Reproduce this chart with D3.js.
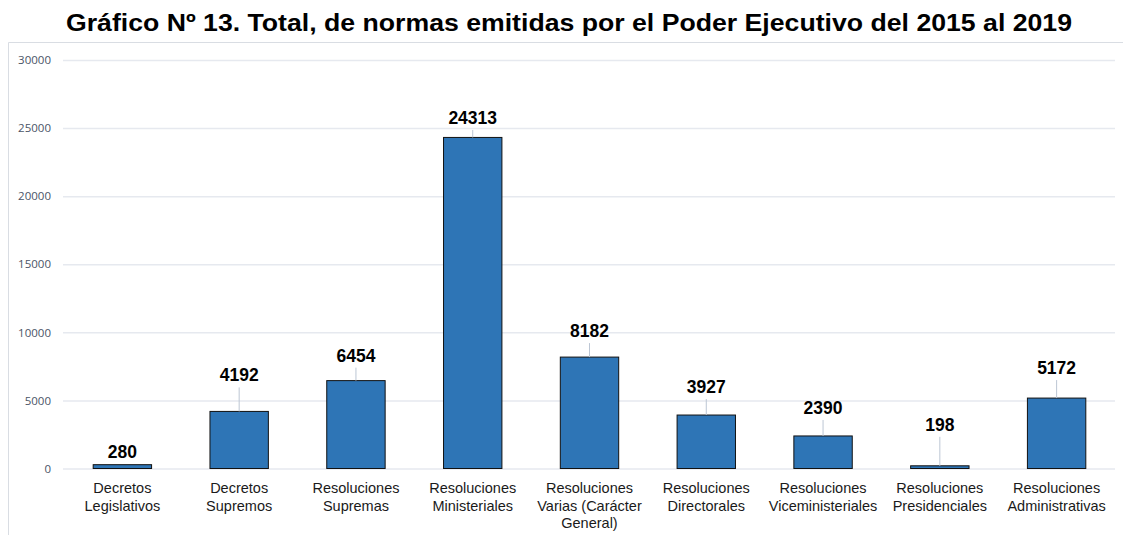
<!DOCTYPE html>
<html><head><meta charset="utf-8">
<script src="https://cdn.jsdelivr.net/npm/d3@7"></script>
<style>body{margin:0;background:#fff}</style></head>
<body><svg id="c" width="1123" height="535"></svg>
<script>
const titleText = "Gráfico Nº 13. Total, de normas emitidas por el Poder Ejecutivo del 2015 al 2019";
const categories = [
  ["Decretos","Legislativos"],
  ["Decretos","Supremos"],
  ["Resoluciones","Supremas"],
  ["Resoluciones","Ministeriales"],
  ["Resoluciones","Varias (Carácter","General)"],
  ["Resoluciones","Directorales"],
  ["Resoluciones","Viceministeriales"],
  ["Resoluciones","Presidenciales"],
  ["Resoluciones","Administrativas"]
];
const values = [280, 4192, 6454, 24313, 8182, 3927, 2390, 198, 5172];
const yTicks = [0, 5000, 10000, 15000, 20000, 25000, 30000];
// label offsets above bar top (px), layout only
const labelLift = [7, 30, 19, 13.5, 20, 22, 22, 35, 24];

const svg = d3.select("#c");
const W = 1123, H = 535;

// frame
svg.append("path").attr("d", `M8.5,${H} V42.5 H${W}`).attr("fill","none")
  .attr("stroke","#d9dde3").attr("stroke-width",1);

// title
svg.append("text").attr("x", 569).attr("y", 31).attr("text-anchor","middle")
  .attr("font-family","Liberation Sans, Arial, sans-serif").attr("font-weight","bold")
  .attr("font-size", 23.5).attr("textLength", 1006).attr("lengthAdjust","spacingAndGlyphs")
  .attr("fill","#000").text(titleText);

const x = d3.scaleBand().domain(d3.range(categories.length)).range([64, 1115]).paddingInner(0.5).paddingOuter(0.25);
const y = d3.scaleLinear().domain([0, 30000]).range([468.5, 60]);

// grid
const yAxis = d3.axisLeft(y).tickValues(yTicks).tickSize(-(1115-63)).tickFormat(d3.format("d")).tickPadding(12);
const gy = svg.append("g").attr("transform","translate(63,0)").call(yAxis);
gy.select(".domain").remove();
gy.selectAll(".tick line").attr("stroke","#e6e9ef").attr("stroke-width",1.5);
gy.selectAll(".tick text").attr("font-family","Open Sans, sans-serif").attr("font-size",11.5).attr("fill","#4a5466");

// bars
svg.append("g").selectAll("rect").data(values).join("rect")
  .attr("x",(d,i)=>x(i)).attr("width",x.bandwidth())
  .attr("y",d=>y(d)).attr("height",d=>y(0)-y(d))
  .attr("fill","#2e75b6").attr("stroke","#111").attr("stroke-width",1);

// leader lines
const leaders = values.map((v,i)=>({v,i,lift:labelLift[i]})).filter(o=>o.lift > 10);
svg.append("g").selectAll("line").data(leaders).join("line")
  .attr("x1",o=>x(o.i)+x.bandwidth()/2).attr("x2",o=>x(o.i)+x.bandwidth()/2)
  .attr("y1",o=>y(o.v)-o.lift+6).attr("y2",o=>y(o.v))
  .attr("stroke","#bcc6d4").attr("stroke-width",1);

// value labels
svg.append("g").selectAll("text").data(values).join("text")
  .attr("x",(d,i)=>x(i)+x.bandwidth()/2).attr("y",(d,i)=>y(d)-labelLift[i])
  .attr("text-anchor","middle").attr("font-family","Liberation Sans, Arial, sans-serif")
  .attr("font-weight","bold").attr("font-size",17.5).attr("fill","#000").text(d=>d);

// category labels
const cat = svg.append("g").selectAll("text").data(categories).join("text")
  .attr("x",(d,i)=>x(i)+x.bandwidth()/2).attr("y",493)
  .attr("text-anchor","middle").attr("font-family","Liberation Sans, Arial, sans-serif")
  .attr("font-size",14.5).attr("fill","#1a1a1a");
cat.selectAll("tspan").data(d=>d).join("tspan")
  .attr("x",function(){return this.parentNode.getAttribute("x");})
  .attr("dy",(d,j)=>j===0?0:17.5).text(d=>d);
</script></body></html>
